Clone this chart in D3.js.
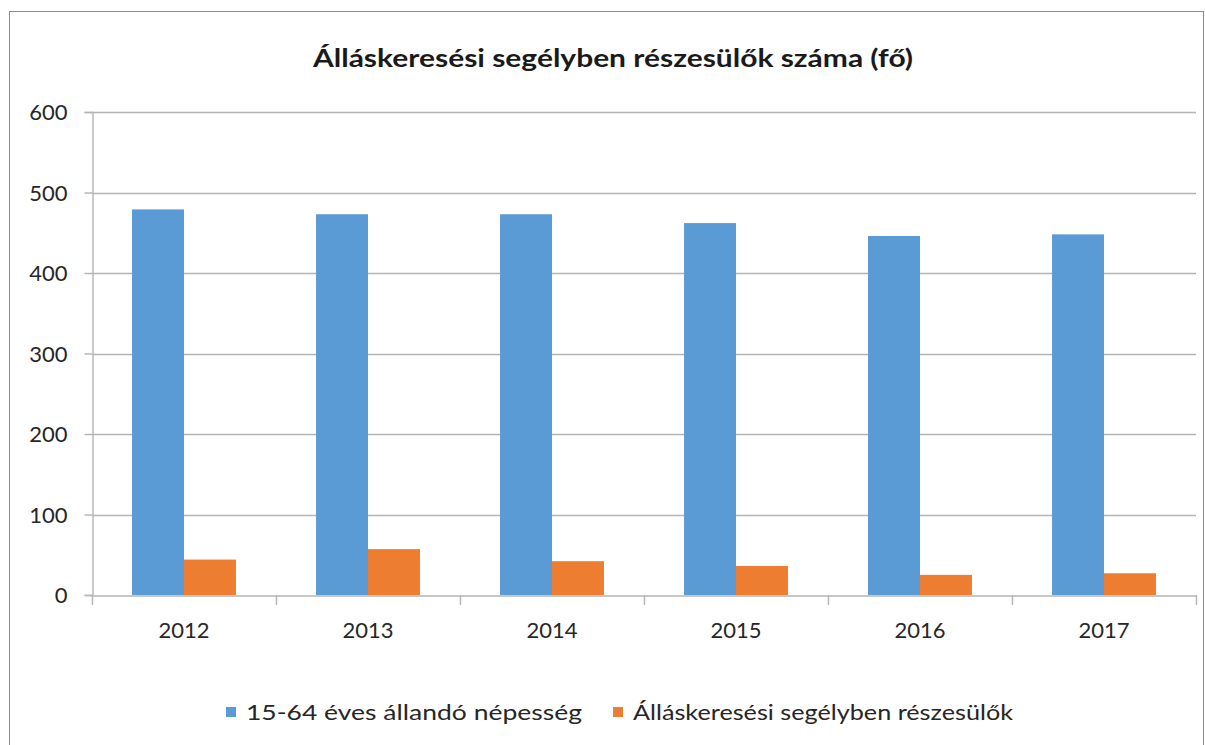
<!DOCTYPE html>
<html>
<head>
<meta charset="utf-8">
<script src="https://cdn.jsdelivr.net/npm/d3@7"></script>
<style>
  html,body{margin:0;padding:0;background:#fff;}
  svg{display:block;font-family:Lato, "Open Sans", sans-serif;}
</style>
</head>
<body>
<div id="chart"></div>
<script>
// Álláskeresési segélyben részesülők — grouped columns
const YEARS = ['2012','2013','2014','2015','2016','2017'];
const SERIES = ['15-64 éves állandó népesség','Álláskeresési segélyben részesülők'];
const POP = [479, 473, 473, 462, 446, 448];
const AID = [44, 57, 42, 36, 25, 27];
const Y_TICKS = [0,100,200,300,400,500,600];
const TITLE = 'Álláskeresési segélyben részesülők száma (fő)';

const COL = ['#5b9bd5', '#ed7d31'];
const W = 1205, H = 745;

const svg = d3.select('#chart').append('svg').attr('width', W).attr('height', H);

// outer chart frame
svg.append('rect').attr('x', 9.5).attr('y', 11.5).attr('width', 1194).attr('height', 760)
  .attr('fill', 'none').attr('stroke', '#8c8c8c').attr('stroke-width', 1);

// squeeze text into a target width (Calibri-ish narrow look)
function fit(t, w){ t.attr('textLength', w).attr('lengthAdjust', 'spacingAndGlyphs'); return t; }

fit(svg.append('text').attr('x', 613).attr('y', 67).attr('text-anchor', 'middle')
  .attr('font-size', 25).attr('font-weight', 700).attr('fill', '#1a1a1a').text(TITLE), 600);

const x = d3.scaleBand().domain(YEARS).range([92, 1196]);
const x1 = d3.scaleBand().domain(SERIES).range([0, x.bandwidth()]).paddingInner(0).paddingOuter(0.77);
const y = d3.scaleLinear().domain([0, 600]).range([595, 112]);

// gridlines
svg.append('g').selectAll('line').data(Y_TICKS.filter(d => d > 0)).join('line')
  .attr('x1', 92).attr('x2', 1196).attr('y1', d => Math.round(y(d)) + 0.5).attr('y2', d => Math.round(y(d)) + 0.5)
  .attr('stroke', '#b4b4b4').attr('stroke-width', 1.4);

// y axis
const ya = svg.append('g').attr('transform', 'translate(92.5,0)')
  .call(d3.axisLeft(y).tickValues(Y_TICKS).tickSize(8).tickPadding(17));
ya.select('.domain').attr('stroke', '#b4b4b4').attr('stroke-width', 1.4);
ya.selectAll('line').attr('stroke', '#b4b4b4').attr('stroke-width', 1.4);
ya.selectAll('text').attr('font-size', 22).attr('fill', '#262626').attr('font-family', 'Lato, sans-serif').attr('dy', '0.36em');

// bars
const data = YEARS.map((yr, i) => ({yr, vals: [POP[i], AID[i]]}));
const grp = svg.append('g').selectAll('g').data(data).join('g')
  .attr('transform', d => `translate(${x(d.yr)},0)`);
grp.selectAll('rect').data(d => d.vals.map((v, k) => ({s: SERIES[k], v, k}))).join('rect')
  .attr('x', d => x1(d.s)).attr('width', x1.bandwidth())
  .attr('y', d => y(d.v)).attr('height', d => y(0) - y(d.v))
  .attr('fill', d => COL[d.k]);

// x axis
const xa = svg.append('g').attr('transform', 'translate(0,595.5)')
  .call(d3.axisBottom(x).tickSize(0).tickPadding(27));
xa.select('.domain').attr('stroke', '#b4b4b4').attr('stroke-width', 1.4);
xa.selectAll('text').attr('font-size', 22).attr('fill', '#262626').attr('font-family', 'Lato, sans-serif');
// boundary ticks between categories
const bounds = YEARS.map(d => x(d)).concat([x.range()[1]]);
svg.append('g').selectAll('line').data(bounds).join('line')
  .attr('x1', d => Math.round(d) + 0.5).attr('x2', d => Math.round(d) + 0.5)
  .attr('y1', 595).attr('y2', 605).attr('stroke', '#b4b4b4').attr('stroke-width', 1.4);

// legend
const LEG_X = [226, 613], LEG_W = [336, 380];
const lg = svg.append('g').selectAll('g').data(SERIES).join('g')
  .attr('transform', (d, i) => `translate(${LEG_X[i]},712)`);
lg.append('rect').attr('x', 0).attr('y', -5).attr('width', 10).attr('height', 10).attr('fill', (d, i) => COL[i]);
lg.each(function(d, i){
  fit(d3.select(this).append('text').attr('x', 20).attr('y', 0).attr('dy', '0.36em')
    .attr('font-size', 22).attr('fill', '#262626').text(d), LEG_W[i]);
});
</script>
</body>
</html>
